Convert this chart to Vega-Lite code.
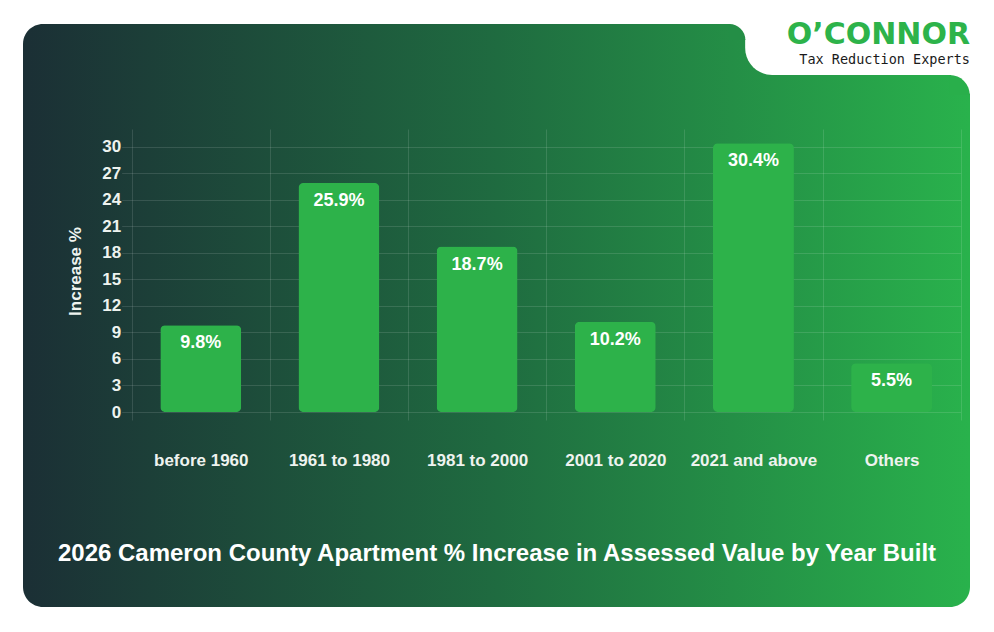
{
  "$schema": "https://vega.github.io/schema/vega-lite/v6.json",
  "width": 947,
  "height": 583,
  "autosize": {"type": "none"},
  "padding": {"left": 23, "top": 24, "right": 24, "bottom": 25},
  "background": "#ffffff",
  "title": {
    "text": "O’CONNOR",
    "subtitle": "Tax Reduction Experts",
    "anchor": "end",
    "frame": "group",
    "orient": "top",
    "offset": -45,
    "font": "DejaVu Sans",
    "fontSize": 30,
    "fontWeight": "bold",
    "color": "#2db34a",
    "subtitleFont": "DejaVu Sans Mono",
    "subtitleFontSize": 13.5,
    "subtitleColor": "#1a1a1a",
    "subtitlePadding": 3
  },
  "layer": [
    {
      "data": {
        "values": [
          {"period": "before 1960", "value": 9.8},
          {"period": "1961 to 1980", "value": 25.9},
          {"period": "1981 to 2000", "value": 18.7},
          {"period": "2001 to 2020", "value": 10.2},
          {"period": "2021 and above", "value": 30.4},
          {"period": "Others", "value": 5.5}
        ]
      },
      "encoding": {
        "x": {
          "field": "period",
          "type": "nominal",
          "sort": null,
          "scale": {"range": [108.7, 937.7], "paddingInner": 0, "paddingOuter": 0},
          "axis": {
            "title": "2026 Cameron County Apartment % Increase in Assessed Value by Year Built",
            "orient": "top",
            "offset": -388,
            "tickBand": "extent",
            "tickSize": -8,
            "tickColor": "rgba(255,255,255,0.12)",
            "domain": false,
            "grid": true,
            "gridColor": "rgba(255,255,255,0.12)",
            "labelAngle": 0,
            "labelPadding": -40,
            "labelBaseline": "middle",
            "labelFont": "Liberation Sans",
            "labelFontSize": 17,
            "labelFontWeight": "bold",
            "labelColor": "#eef3ef",
            "titleFont": "Liberation Sans",
            "titleFontSize": 24,
            "titleFontWeight": "bold",
            "titleColor": "#ffffff",
            "titleX": 473.5,
            "titleY": 141,
            "titleAlign": "center",
            "titleBaseline": "middle"
          }
        },
        "y": {
          "field": "value",
          "type": "quantitative",
          "scale": {"domain": [0, 32], "range": [388, 105], "nice": false},
          "axis": {
            "title": "Increase %",
            "orient": "left",
            "offset": -108.7,
            "values": [0, 3, 6, 9, 12, 15, 18, 21, 24, 27, 30],
            "tickSize": 10,
            "tickColor": "rgba(255,255,255,0.12)",
            "domain": false,
            "grid": true,
            "gridColor": "rgba(255,255,255,0.12)",
            "labelPadding": 1,
            "labelFont": "Liberation Sans",
            "labelFontSize": 17,
            "labelFontWeight": "bold",
            "labelColor": "#eef3ef",
            "titleFont": "Liberation Sans",
            "titleFontSize": 17,
            "titleFontWeight": "bold",
            "titleColor": "#eef3ef",
            "titleAngle": -90,
            "titleX": -56,
            "titleY": 247,
            "titleAlign": "center",
            "titleBaseline": "middle"
          }
        }
      },
      "layer": [
        {
          "mark": {"type": "bar", "width": {"band": 0.586}, "cornerRadius": 5, "color": "#2db24a"}
        },
        {
          "transform": [{"calculate": "format(datum.value, '.1f') + '%'", "as": "label"}],
          "mark": {
            "type": "text",
            "baseline": "middle",
            "align": "center",
            "dy": 18,
            "font": "Liberation Sans",
            "fontSize": 18,
            "fontWeight": "bold",
            "color": "#ffffff"
          },
          "encoding": {"text": {"field": "label"}}
        }
      ]
    },
    {
      "data": {"values": [{"part": "logo notch"}]},
      "mark": {"type": "rect", "color": "#ffffff", "cornerRadiusBottomLeft": 40},
      "encoding": {
        "x": {"datum": "2021 and above", "bandPosition": 0.44},
        "x2": {"datum": "Others", "bandPosition": 1.08},
        "y": {"datum": 44.2},
        "y2": {"datum": 38.1}
      }
    },
    {
      "data": {"values": [{"part": "notch shoulder backing"}]},
      "mark": {"type": "rect", "color": "#ffffff"},
      "encoding": {
        "x": {"datum": "2021 and above", "bandPosition": 0.333},
        "x2": {"datum": "2021 and above", "bandPosition": 0.45},
        "y": {"datum": 44.0},
        "y2": {"datum": 42.18}
      }
    },
    {
      "data": {"values": [{"part": "notch shoulder"}]},
      "mark": {"type": "arc", "radius": 16, "theta": 0, "theta2": 1.5708, "color": "#248e46"},
      "encoding": {
        "x": {"datum": "2021 and above", "bandPosition": 0.3256},
        "y": {"datum": 42.06}
      }
    },
    {
      "data": {"values": [{"part": "corner backing"}]},
      "mark": {"type": "rect", "color": "#ffffff"},
      "encoding": {
        "x": {"datum": "Others", "bandPosition": 0.93},
        "x2": {"datum": "Others", "bandPosition": 1.08},
        "y": {"datum": 38.33},
        "y2": {"datum": 36.0}
      }
    },
    {
      "data": {"values": [{"part": "card corner"}]},
      "mark": {"type": "arc", "radius": 20, "theta": 0, "theta2": 1.5708, "color": "#29af4b"},
      "encoding": {
        "x": {"datum": "Others", "bandPosition": 0.921},
        "y": {"datum": 35.84}
      }
    }
  ],
  "config": {
    "view": {
      "fill": {
        "gradient": "linear",
        "x1": 0, "y1": 0, "x2": 1, "y2": 0,
        "stops": [
          {"offset": 0, "color": "#1b2f35"},
          {"offset": 0.5, "color": "#1f6b40"},
          {"offset": 1, "color": "#29b24c"}
        ]
      },
      "cornerRadius": 20,
      "stroke": null
    }
  }
}
